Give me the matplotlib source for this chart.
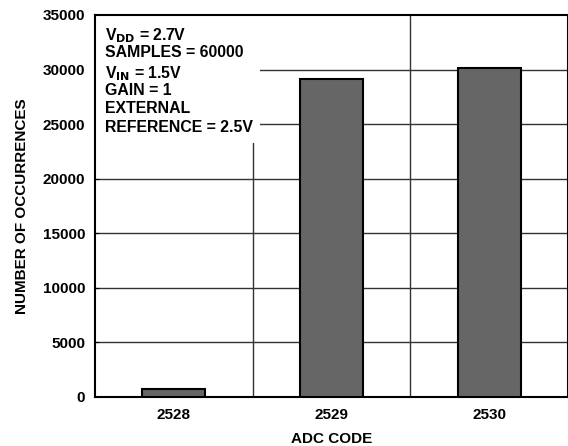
import matplotlib.pyplot as plt
from matplotlib.patches import Rectangle

plt.rcParams['font.family'] = ['Liberation Sans', 'DejaVu Sans']
plt.rcParams['font.weight'] = 'bold'

codes = [2528, 2529, 2530]
occurrences = [750, 29150, 30100]
yticks = [0, 5000, 10000, 15000, 20000, 25000, 30000, 35000]
conditions = [
    r'V$_{\mathbf{DD}}$ = 2.7V',
    'SAMPLES = 60000',
    r'V$_{\mathbf{IN}}$ = 1.5V',
    'GAIN = 1',
    'EXTERNAL',
    'REFERENCE = 2.5V',
]

fig = plt.figure(figsize=(5.68, 4.46), dpi=100)
ax = fig.add_axes([95 / 568, 49 / 446, 473 / 568, 382 / 446])

# grid: horizontal every 5000, vertical between codes
for y in yticks[1:-1]:
    ax.axhline(y, color='#333333', lw=1.0, zorder=1)
for x in [2528.5, 2529.5]:
    ax.axvline(x, color='#333333', lw=1.0, zorder=1)

ax.bar(codes, occurrences, width=0.4, color='#666666', edgecolor='black',
       linewidth=1.5, zorder=3)

ax.set_xlim(2527.5, 2530.5)
ax.set_ylim(0, 35000)
ax.set_xticks(codes)
ax.set_xticklabels([str(c) for c in codes])
ax.set_yticks(yticks)
ax.tick_params(axis='y', direction='in', length=3, labelsize=11, pad=7)
ax.tick_params(axis='x', length=0, labelsize=11, pad=8)
for lbl in ax.get_xticklabels() + ax.get_yticklabels():
    lbl.set_fontweight('bold')

for s in ax.spines.values():
    s.set_linewidth(1.5)

ax.set_xlabel('ADC CODE', fontsize=11, fontweight='bold', labelpad=7)
ax.set_ylabel('NUMBER OF OCCURRENCES', fontsize=11, fontweight='bold', labelpad=10)

# white panel behind the test conditions
ax.add_patch(Rectangle((0, 1 - 128 / 382), 165 / 473, 128 / 382,
                       transform=ax.transAxes, facecolor='white',
                       edgecolor='none', zorder=2))
for i, line in enumerate(conditions):
    ax.text(10 / 473, 1 - (11.5 + i * 18.7) / 382, line, transform=ax.transAxes,
            fontsize=11.4, fontweight='bold', va='top', ha='left', zorder=4)

fig.savefig('out.png', dpi=100)
